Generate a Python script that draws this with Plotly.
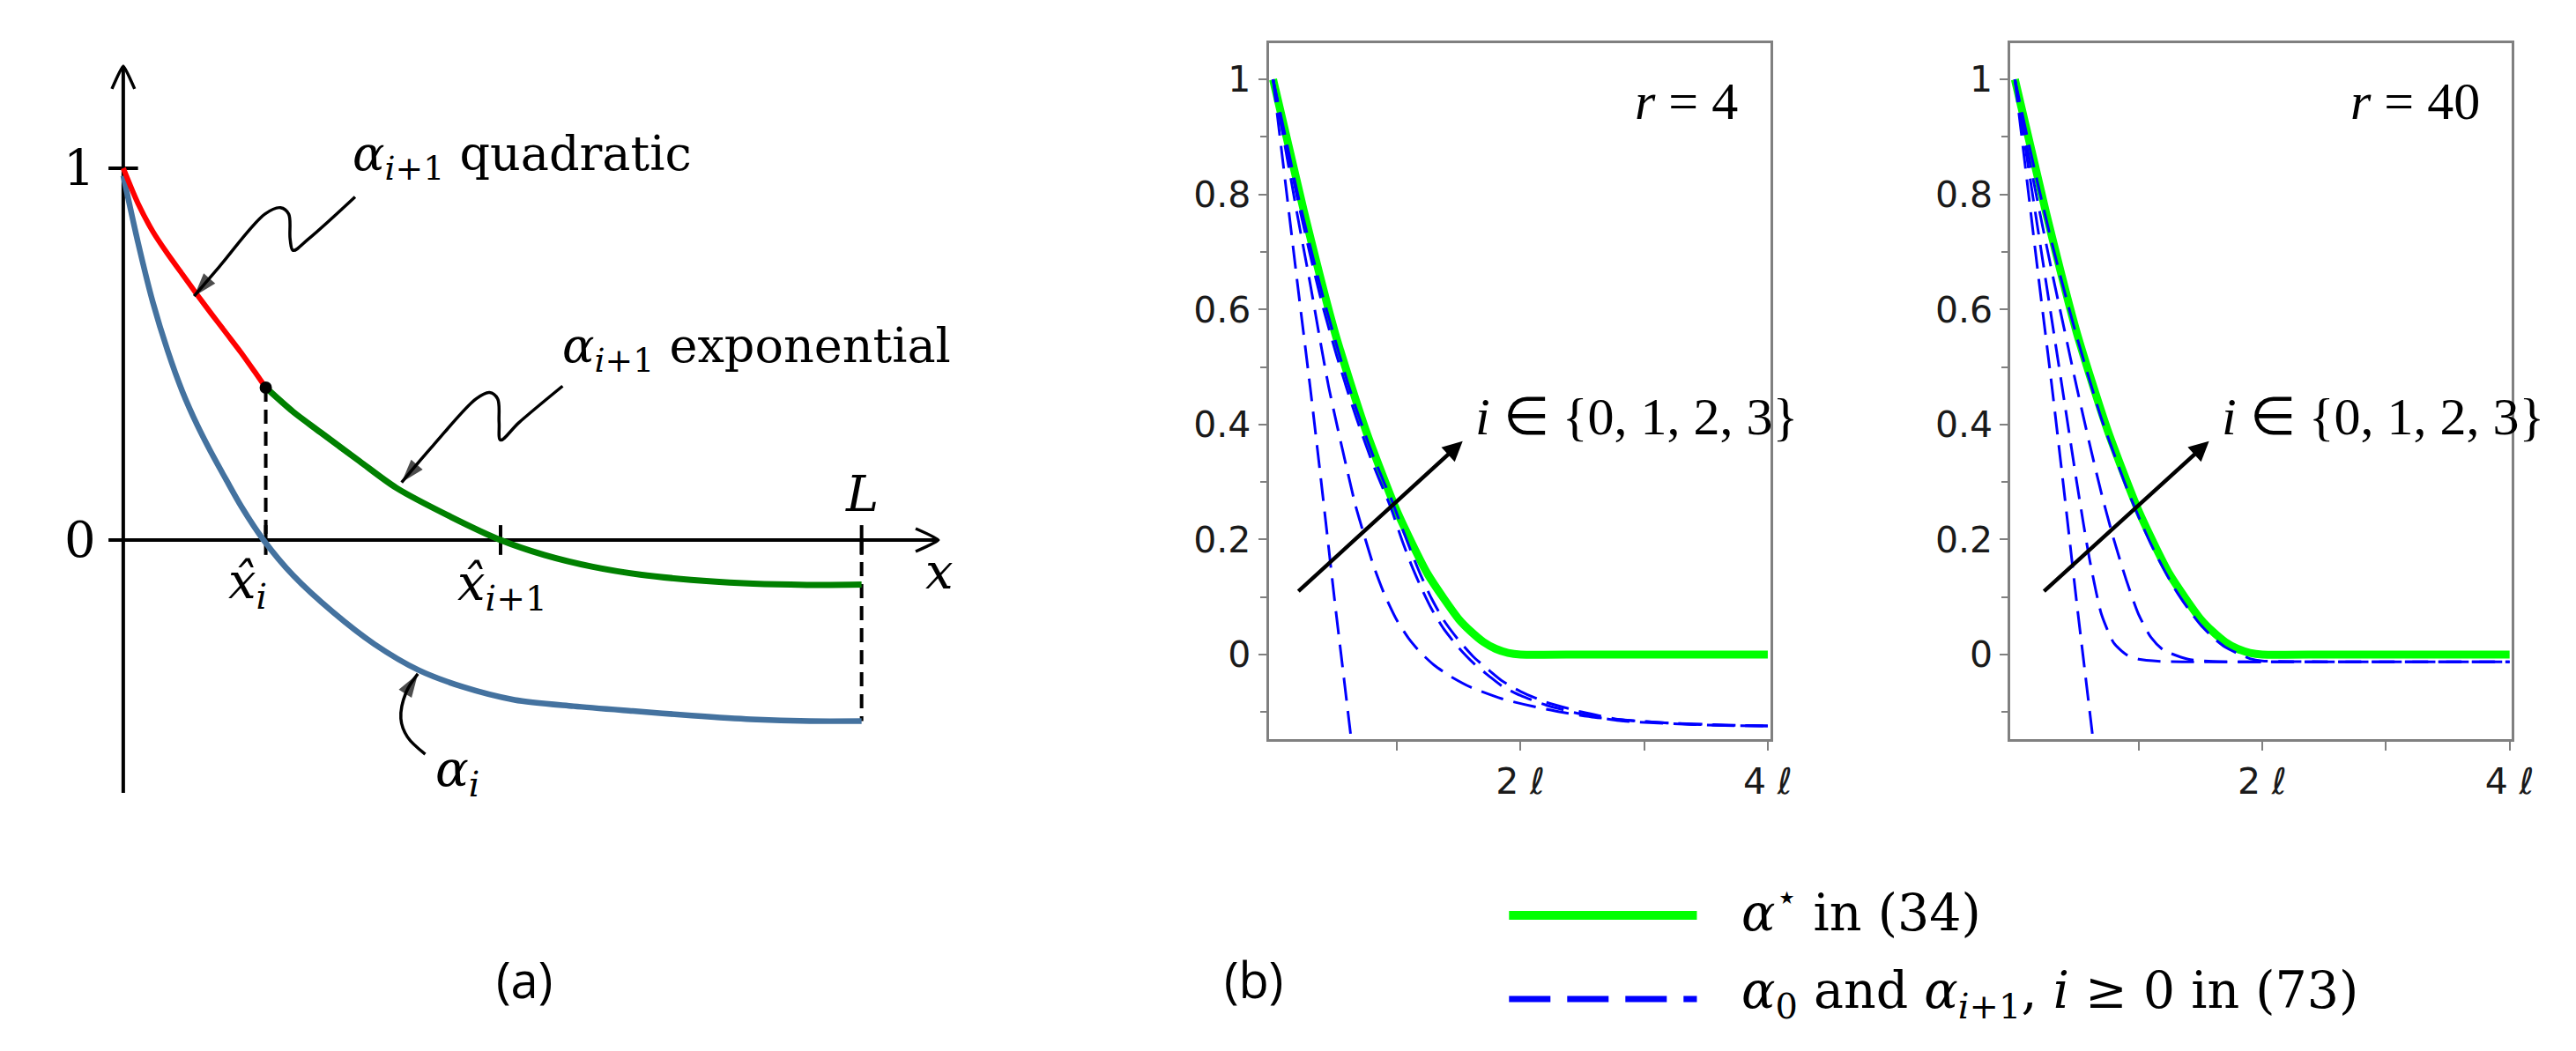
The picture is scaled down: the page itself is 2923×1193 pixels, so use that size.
import plotly.graph_objects as go

W, H = 2923, 1193

# ================= Panel (a): schematic (x in units of L, y with the "1" tick at 1) =================
a_alpha_i_x = [0.0, 0.02, 0.04, 0.06, 0.08, 0.10, 0.12, 0.14, 0.16, 0.19, 0.23, 0.284, 0.34, 0.40, 0.46,
               0.53, 0.61, 0.69, 0.77, 0.85, 0.93, 1.0]
a_alpha_i_y = [0.98, 0.80, 0.64, 0.51, 0.40, 0.31, 0.232, 0.16, 0.09, 0.0, -0.095, -0.194, -0.28, -0.35,
               -0.395, -0.43, -0.447, -0.46, -0.472, -0.482, -0.487, -0.487]
a_quad_x = [0.0, 0.02, 0.04, 0.06, 0.08, 0.10, 0.12, 0.14, 0.16, 0.18, 0.193]
a_quad_y = [1.0, 0.905, 0.83, 0.77, 0.715, 0.66, 0.607, 0.555, 0.503, 0.447, 0.41]
a_exp_x = [0.193, 0.23, 0.267, 0.32, 0.37, 0.444, 0.511, 0.57, 0.636, 0.70, 0.769, 0.84, 0.904, 0.95, 1.0]
a_exp_y = [0.41, 0.345, 0.29, 0.212, 0.14, 0.062, 0.0, -0.04, -0.072, -0.093, -0.107, -0.116, -0.12, -0.121, -0.12]
a_xhat_i = 0.193
a_xhat_i1 = 0.511
a_L = 1.0
a_switch_y = 0.41
a_alpha_i_at_L = -0.487

a_quad_ptr_x = [0.314, 0.251, 0.230, 0.226, 0.224, 0.213, 0.192, 0.13, 0.096]
a_quad_ptr_y = [0.923, 0.810, 0.779, 0.809, 0.877, 0.894, 0.877, 0.735, 0.656]
a_exp_ptr_x = [0.595, 0.536, 0.511, 0.509, 0.507, 0.496, 0.478, 0.42, 0.377]
a_exp_ptr_y = [0.414, 0.316, 0.269, 0.316, 0.380, 0.397, 0.380, 0.255, 0.155]
a_ai_ptr_x = [0.409, 0.385, 0.376, 0.383, 0.399]
a_ai_ptr_y = [-0.576, -0.53, -0.48, -0.41, -0.36]

# ================= Panel (b): profiles, x in units of ell =================
star_x = [0, 0.25, 0.5, 0.75, 1.0, 1.25, 1.5, 1.6, 1.7, 1.8, 1.9, 2.0, 2.5, 3.0, 3.5, 4.0]
star_y = [1, 0.77, 0.56, 0.39, 0.25, 0.14, 0.062, 0.04, 0.022, 0.01, 0.003, 0.0, 0.0, 0.0, 0.0, 0.0]

alpha0_x = [0, 0.1, 0.2, 0.3, 0.4, 0.5, 0.55, 0.6, 0.65]
alpha0_y = [1, 0.82, 0.64, 0.465, 0.28, 0.09, 0.0, -0.09, -0.18]

r4_a1_x = [0, 0.1, 0.2, 0.3, 0.384, 0.45, 0.526, 0.6, 0.668, 0.74, 0.81, 0.9, 1.0, 1.1, 1.19, 1.3, 1.427,
           1.6, 1.853, 2.1, 2.327, 2.6, 2.8, 3.2, 3.6, 4.0]
r4_a1_y = [1, 0.88, 0.76, 0.645, 0.542, 0.465, 0.39, 0.32, 0.258, 0.205, 0.156, 0.105, 0.06, 0.027, 0.004,
           -0.018, -0.037, -0.057, -0.077, -0.09, -0.1, -0.109, -0.113, -0.119, -0.122, -0.124]
r4_a2_x = [0, 0.1, 0.2, 0.3, 0.4, 0.514, 0.6, 0.668, 0.75, 0.81, 0.9, 0.953, 1.047, 1.12, 1.19, 1.28, 1.379,
           1.5, 1.616, 1.75, 1.853, 2.0, 2.21, 2.5, 2.8, 3.2, 3.6, 4.0]
r4_a2_y = [1, 0.893, 0.79, 0.695, 0.607, 0.52, 0.46, 0.415, 0.365, 0.33, 0.283, 0.255, 0.196, 0.155, 0.12,
           0.08, 0.045, 0.012, -0.014, -0.038, -0.055, -0.071, -0.088, -0.104, -0.115, -0.12, -0.123, -0.124]
r4_a3_x = r4_a2_x
r4_a3_y = [1, 0.9, 0.8, 0.71, 0.625, 0.538, 0.475, 0.43, 0.38, 0.345, 0.298, 0.272, 0.218, 0.177, 0.14,
           0.098, 0.06, 0.025, -0.003, -0.028, -0.046, -0.064, -0.083, -0.1, -0.113, -0.119, -0.123, -0.124]

r40_a1_x = [0, 0.1, 0.2, 0.3, 0.4, 0.5, 0.6, 0.7, 0.8, 0.9, 1.0, 1.2, 1.5, 2.0, 3.0, 4.0]
r40_a1_y = [1, 0.86, 0.72, 0.58, 0.44, 0.30, 0.17, 0.07, 0.02, 0.0, -0.008, -0.012, -0.0125, -0.0125,
            -0.0125, -0.0125]
r40_a2_x = [0, 0.1, 0.2, 0.3, 0.4, 0.5, 0.6, 0.7, 0.8, 0.9, 1.0, 1.1, 1.2, 1.4, 1.6, 2.0, 3.0, 4.0]
r40_a2_y = [1, 0.88, 0.77, 0.665, 0.565, 0.465, 0.37, 0.28, 0.20, 0.13, 0.07, 0.03, 0.008, -0.008, -0.012,
            -0.0125, -0.0125, -0.0125]
r40_a3_x = [0, 0.1, 0.2, 0.3, 0.4, 0.5, 0.6, 0.7, 0.8, 0.9, 1.0, 1.1, 1.2, 1.3, 1.4, 1.5, 1.6, 1.7, 1.8,
            1.9, 2.0, 2.5, 3.0, 3.5, 4.0]
r40_a3_y = [1, 0.9, 0.805, 0.715, 0.632, 0.553, 0.48, 0.41, 0.35, 0.292, 0.24, 0.192, 0.15, 0.112, 0.08,
            0.052, 0.03, 0.013, 0.002, -0.007, -0.011, -0.0125, -0.0125, -0.0125, -0.0125]

x_tickvals = [2, 4]
x_ticktext = ["2 ℓ", "4 ℓ"]
x_minorvals = [1, 3]
y_tickvals = [0, 0.2, 0.4, 0.6, 0.8, 1.0]
y_ticktext = ["0", "0.2", "0.4", "0.6", "0.8", "1"]
y_minorvals = [-0.1, 0.1, 0.3, 0.5, 0.7, 0.9]

# ================= figure =================
fig = go.Figure()
BLACK = "#000000"
SERIF = "Liberation Serif"
WIDE_SERIF = "DejaVu Serif"

def px2fx(p):
    return p / W

def px2fy(p):
    return 1 - p / H

def add_line(xa, ya, x, y, **kw):
    fig.add_trace(go.Scatter(x=x, y=y, mode="lines", xaxis=xa, yaxis=ya, hoverinfo="skip",
                             showlegend=False, **kw))

def add_arrow(xa, ya, x, y, width, head, spline=False, symbol="arrow"):
    n = len(x)
    fig.add_trace(go.Scatter(
        x=x, y=y, mode="lines+markers", xaxis=xa, yaxis=ya, hoverinfo="skip", showlegend=False,
        line=dict(color=BLACK, width=width, shape="spline" if spline else "linear", smoothing=1.0),
        marker=dict(symbol=symbol, size=[0] * (n - 1) + [head], angleref="previous", color=BLACK,
                    line=dict(width=0))))

# ---- panel (a) ----
add_line("x", "y", [0, 0], [-0.68, 1.275], line=dict(color=BLACK, width=4))
add_line("x", "y", [-0.02, 1.104], [0, 0], line=dict(color=BLACK, width=4))
add_line("x", "y", [1.104 - 26 / 845, 1.104, 1.104 - 26 / 845], [13 / 422, 0, -13 / 422],
         line=dict(color=BLACK, width=3.5, shape="spline", smoothing=0.4))
add_line("x", "y", [-13 / 845, 0, 13 / 845], [1.275 - 26 / 422, 1.275, 1.275 - 26 / 422],
         line=dict(color=BLACK, width=3.5, shape="spline", smoothing=0.4))
add_line("x", "y", [-0.02, 0.02], [1, 1], line=dict(color=BLACK, width=4))
for xv in (a_xhat_i, a_xhat_i1, a_L):
    add_line("x", "y", [xv, xv], [-0.04, 0.04], line=dict(color=BLACK, width=4))
add_line("x", "y", [a_xhat_i, a_xhat_i], [a_switch_y, 0], line=dict(color=BLACK, width=4, dash="16px,9px"))
add_line("x", "y", [a_L, a_L], [0, a_alpha_i_at_L], line=dict(color=BLACK, width=4, dash="16px,9px"))
add_line("x", "y", a_alpha_i_x, a_alpha_i_y, line=dict(color="#44729f", width=6.5, shape="spline", smoothing=0.8))
add_line("x", "y", a_quad_x, a_quad_y, line=dict(color="#ff0000", width=6, shape="spline", smoothing=0.8))
add_line("x", "y", a_exp_x, a_exp_y, line=dict(color="#008000", width=7, shape="spline", smoothing=0.8))
fig.add_trace(go.Scatter(x=[a_xhat_i], y=[a_switch_y], mode="markers", xaxis="x", yaxis="y",
                         marker=dict(color=BLACK, size=14), hoverinfo="skip", showlegend=False))
add_arrow("x", "y", a_quad_ptr_x, a_quad_ptr_y, 3.5, 28, spline=True)
add_arrow("x", "y", a_exp_ptr_x, a_exp_ptr_y, 3.5, 28, spline=True)
add_arrow("x", "y", a_ai_ptr_x, a_ai_ptr_y, 3.5, 28, spline=True)

annotations = []

def atext(x, y, t, xanchor="center", size=58, xref="x", yref="y", family=SERIF):
    annotations.append(dict(x=x, y=y, xref=xref, yref=yref, text=t, showarrow=False,
                            xanchor=xanchor, yanchor="middle",
                            font=dict(family=family, size=size, color=BLACK)))

atext(-0.060, 1.0, "1", size=56, family=WIDE_SERIF)
atext(-0.058, 0.0, "0", size=56, family=WIDE_SERIF)
atext(0.168, -0.12, "<i>x\u0302</i><sub><i>i</i></sub>", size=56, family=WIDE_SERIF)
atext(0.513, -0.125, "<i>x\u0302</i><sub><i>i</i>+1</sub>", size=56, family=WIDE_SERIF)
atext(1.106, -0.085, "<i>x</i>", size=56, family=WIDE_SERIF)
atext(1.001, 0.125, "<i>L</i>", size=56, family=WIDE_SERIF)
atext(0.452, -0.625, "<i>α</i><sub><i>i</i></sub>", size=56, family=WIDE_SERIF)
atext(0.308, 1.03, "<i>α</i><sub><i>i</i>+1</sub> quadratic", xanchor="left", size=54, family=WIDE_SERIF)
atext(0.592, 0.515, "<i>α</i><sub><i>i</i>+1</sub> exponential", xanchor="left", size=54,
      family=WIDE_SERIF)

# ---- panel (b) ----
GREEN = dict(color="#00ff00", width=9, shape="spline", smoothing=0.6)
BLUE = dict(color="#0000ff", width=3, dash="26px,12px", shape="spline", smoothing=0.6)

for xa, ya, curves in (("x2", "y2", [(r4_a1_x, r4_a1_y), (r4_a2_x, r4_a2_y), (r4_a3_x, r4_a3_y)]),
                       ("x3", "y3", [(r40_a1_x, r40_a1_y), (r40_a2_x, r40_a2_y), (r40_a3_x, r40_a3_y)])):
    add_line(xa, ya, star_x, star_y, line=GREEN)
    add_line(xa, ya, alpha0_x, alpha0_y, line=BLUE)
    for cx, cy in curves:
        add_line(xa, ya, cx, cy, line=BLUE)

for xa, ya, lab, tail, head, txtx in (("x2", "y2", "<i>r</i> = 4", (0.194, 0.108), (1.533, 0.371), 2.94),
                                     ("x3", "y3", "<i>r</i> = 40", (0.225, 0.108), (1.57, 0.371), 2.975)):
    annotations.append(dict(x=head[0], y=head[1], ax=tail[0], ay=tail[1], xref=xa, yref=ya,
                            axref=xa, ayref=ya, showarrow=True, arrowhead=2, arrowsize=1.0,
                            arrowwidth=4.5, arrowcolor=BLACK, text="", standoff=0))
    atext(3.775, 0.962, lab, xanchor="right", size=60, xref=xa, yref=ya)
    atext(txtx, 0.413, "<i>i</i> ∈ {0, 1, 2, 3}", size=60, xref=xa, yref=ya)

# ---- custom legend (axis 4 in pixel units) ----
add_line("x4", "y4", [1719, 1934], [1031, 1031], line=dict(color="#00ff00", width=10))
add_line("x4", "y4", [1719, 1934], [1126, 1126], line=dict(color="#0000ff", width=7, dash="47px,19px"))
atext(1983, 1024, "<i>α</i><sup>⋆</sup> in (34)", xanchor="left", size=57, xref="x4", yref="y4",
      family=WIDE_SERIF)
atext(1983, 1120, "<i>α</i><sub>0</sub> and <i>α</i><sub><i>i</i>+1</sub>, <i>i</i> ≥ 0 in (73)",
      xanchor="left", size=57, xref="x4", yref="y4", family=WIDE_SERIF)

atext(592, 1103, "(a)", size=56, xref="x4", yref="y4", family="Open Sans")
atext(1427, 1103, "(b)", size=56, xref="x4", yref="y4", family="Open Sans")

# ---- layout ----
hidden = dict(visible=False, showgrid=False, zeroline=False, fixedrange=True)
GRAY = "#808080"
TICKFONT = dict(family="DejaVu Sans", size=41, color="#1a1a1a")
bx = dict(range=[-0.035, 4.02], showline=True, linecolor=GRAY, linewidth=3, mirror=True,
          ticks="outside", ticklen=10, tickwidth=2, tickcolor=GRAY,
          tickmode="array", tickvals=x_tickvals, ticktext=x_ticktext,
          minor=dict(tickmode="array", tickvals=x_minorvals, ticks="outside", ticklen=10,
                     tickwidth=2, tickcolor=GRAY, showgrid=False),
          showgrid=False, zeroline=False, tickfont=TICKFONT, fixedrange=True)
by = dict(range=[-0.147, 1.063], showline=True, linecolor=GRAY, linewidth=3, mirror=True,
          ticks="outside", ticklen=9, tickwidth=2, tickcolor=GRAY,
          tickmode="array", tickvals=y_tickvals, ticktext=y_ticktext,
          minor=dict(tickmode="array", tickvals=y_minorvals, ticks="outside", ticklen=7,
                     tickwidth=2, tickcolor=GRAY, showgrid=False),
          showgrid=False, zeroline=False, tickfont=TICKFONT, fixedrange=True)
yb_dom = [px2fy(831), px2fy(41)]

fig.update_layout(
    width=W, height=H, margin=dict(l=0, r=0, t=0, b=0),
    paper_bgcolor="white", plot_bgcolor="rgba(0,0,0,0)", showlegend=False,
    xaxis=dict(domain=[0, px2fx(1200)], range=[-0.1574, 1.2627], **hidden),
    yaxis=dict(domain=[0, 1], range=[-1.3934, 1.4336], **hidden),
    xaxis2=dict(domain=[px2fx(1444), px2fx(2018)], anchor="y2", **bx),
    yaxis2=dict(domain=yb_dom, anchor="x2", **by),
    xaxis3=dict(domain=[px2fx(2293), px2fx(2867)], anchor="y3", **bx),
    yaxis3=dict(domain=yb_dom, anchor="x3", **by),
    xaxis4=dict(domain=[0, 1], range=[0, W], **hidden),
    yaxis4=dict(domain=[0, 1], range=[H, 0], **hidden),
    annotations=annotations,
)

fig.write_html("out.html")
